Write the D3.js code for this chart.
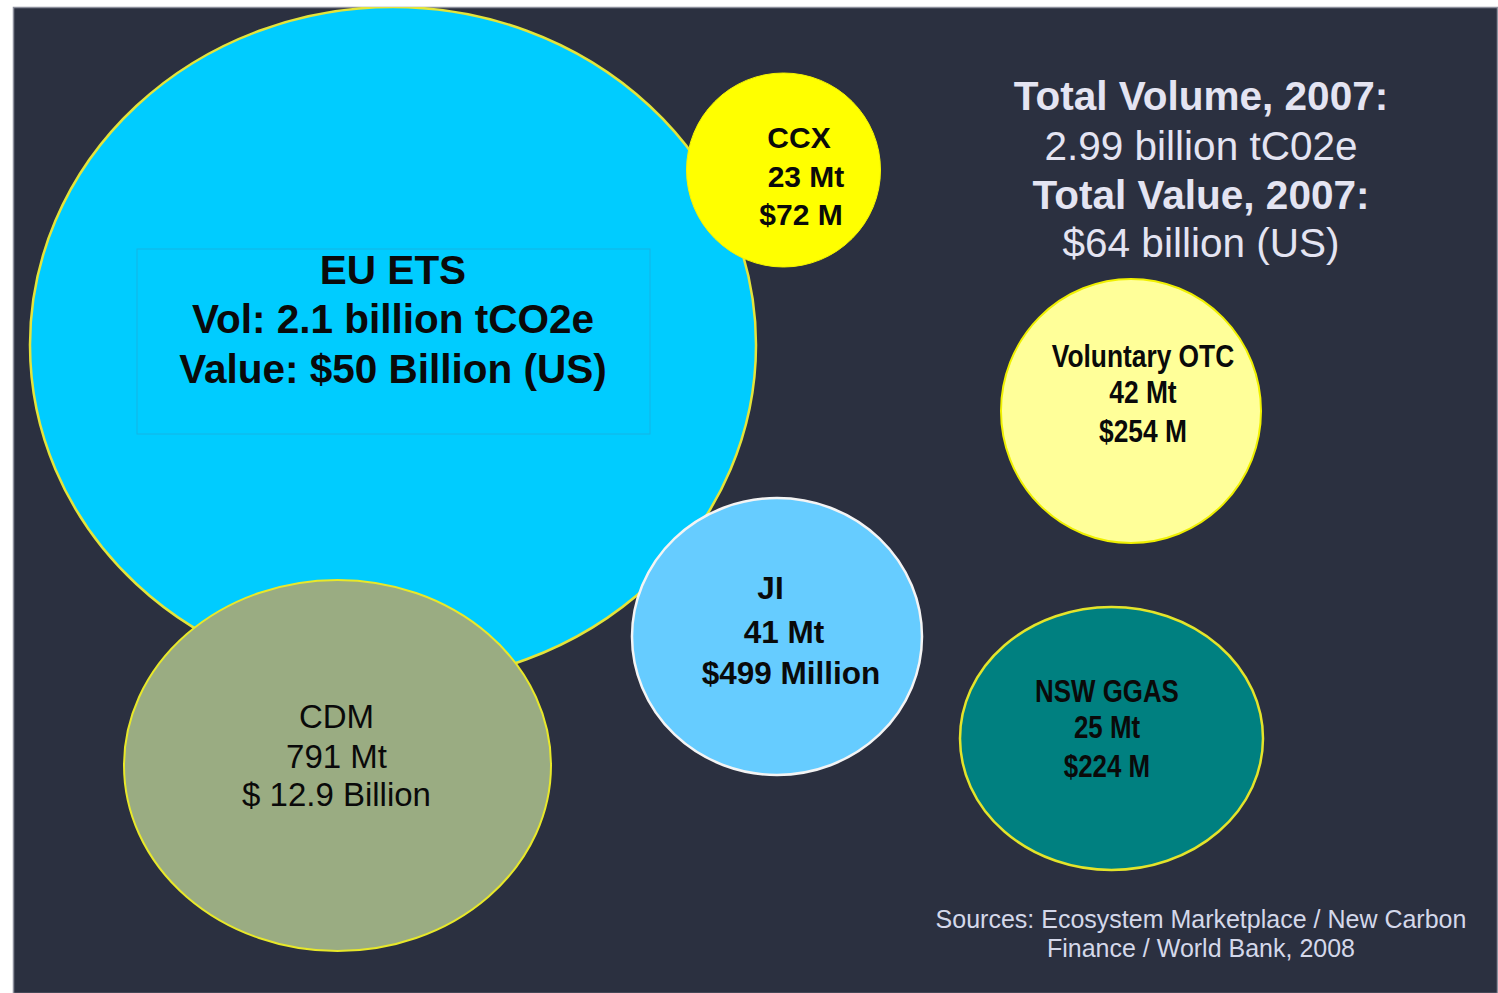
<!DOCTYPE html>
<html>
<head>
<meta charset="utf-8">
<script src="https://cdn.jsdelivr.net/npm/d3@7"></script>
<style>
    html, body { margin: 0; padding: 0; background: #ffffff; }
    svg { display: block; }
</style>
</head>
<body>
<div id="chart"></div>
<script>
// carbon markets 2007
const markets = ['EU ETS', 'CCX', 'CDM', 'JI', 'Voluntary OTC', 'NSW GGAS'];
const volumesMt = [2100, 23, 791, 41, 42, 25];
const valuesMUSD = [50000, 72, 12900, 499, 254, 224];
const volumeLabels = ['Vol: 2.1 billion tCO2e', '23 Mt', '791 Mt', '41 Mt', '42 Mt', '25 Mt'];
const valueLabels = ['Value: $50 Billion (US)', '$72 M', '$ 12.9 Billion', '$499 Million', '$254 M', '$224 M'];
const totalLines = ['Total Volume, 2007:', '2.99 billion tC02e', 'Total Value, 2007:', '$64 billion (US)'];
const sourceLines = ['Sources: Ecosystem Marketplace / New Carbon', 'Finance / World Bank, 2008'];

// where each bubble sits on the slide (panel units), not data
// squeeze < 1 fakes the narrow typeface used on some bubbles
const layout = [
    { cx: 380, cy: 338, rx: 363, ry: 338, fill: '#00ccff', stroke: '#e4e43a', sw: 2.5,
      weight: 'bold', size: 40.5, squeeze: 1,
      dx: [0, 0, 0], dy: [-61, -12, 38] },
    { cx: 770.5, cy: 163, rx: 97, ry: 97, fill: '#ffff00', stroke: '#f4f400', sw: 1,
      weight: 'bold', size: 30, squeeze: 1,
      dx: [15.5, 22.5, 17.5], dy: [-22, 17, 55] },
    { cx: 324.5, cy: 758.5, rx: 213.5, ry: 185.5, fill: '#9aac82', stroke: '#e8e82a', sw: 2,
      weight: 'normal', size: 33, squeeze: 1,
      dx: [-1, -1, -1], dy: [-37.5, 2, 40.5] },
    { cx: 764, cy: 629.5, rx: 145, ry: 138.5, fill: '#66ccff', stroke: '#f4f4f4', sw: 2.5,
      weight: 'bold', size: 31.5, squeeze: 1,
      dx: [-6.5, 7, 14], dy: [-38, 6, 47] },
    { cx: 1118, cy: 404, rx: 130, ry: 132, fill: '#ffff99', stroke: '#f0f000', sw: 2,
      weight: 'bold', size: 31, squeeze: 0.85,
      dx: [12, 12, 12], dy: [-44, -8, 31] },
    { cx: 1098.5, cy: 731.5, rx: 151.5, ry: 131.5, fill: '#008080', stroke: '#e4e42a', sw: 2.5,
      weight: 'bold', size: 31, squeeze: 0.835,
      dx: [-4.5, -4.5, -4.5], dy: [-36.5, -0.5, 38.5] }
];

const W = 1498;
const H = 993;
const panel = { left: 13, top: 7, width: 1484, height: 986 };
const fontFamily = 'Liberation Sans, Arial, sans-serif';

const svg = d3.select('#chart')
    .append('svg')
    .attr('width', W)
    .attr('height', H);

const x = d3.scaleLinear()
    .domain([0, panel.width])
    .range([panel.left, panel.left + panel.width]);
const y = d3.scaleLinear()
    .domain([0, panel.height])
    .range([panel.top, panel.top + panel.height]);

svg.append('defs')
    .append('clipPath')
    .attr('id', 'panel-clip')
    .append('rect')
    .attr('x', x(0))
    .attr('y', y(0))
    .attr('width', x(panel.width) - x(0))
    .attr('height', y(panel.height) - y(0));

// dark slide background
svg.append('rect')
    .attr('x', x(0) + 0.5)
    .attr('y', y(0) + 0.5)
    .attr('width', panel.width)
    .attr('height', panel.height)
    .attr('fill', '#2b3040')
    .attr('stroke', '#8c8f9c')
    .attr('stroke-width', 1.5);

const g = svg.append('g').attr('clip-path', 'url(#panel-clip)');

const bubbles = markets.map((name, i) => {
    return Object.assign({ name: name, vol: volumesMt[i], val: valuesMUSD[i],
        lines: [name, volumeLabels[i], valueLabels[i]] }, layout[i]);
});

// bubbles
g.selectAll('.bubble')
    .data(bubbles)
    .enter()
    .append('ellipse')
    .classed('bubble', true)
    .attr('cx', (d) => x(d.cx))
    .attr('cy', (d) => y(d.cy))
    .attr('rx', (d) => d.rx)
    .attr('ry', (d) => d.ry)
    .attr('fill', (d) => d.fill)
    .attr('stroke', (d) => d.stroke)
    .attr('stroke-width', (d) => d.sw);

// text box inside EU ETS
const eu = bubbles[0];
g.append('rect')
    .attr('x', x(eu.cx) - 256)
    .attr('y', y(eu.cy) - 96)
    .attr('width', 513)
    .attr('height', 185)
    .attr('fill', 'none')
    .attr('stroke', '#14b4e4')
    .attr('stroke-width', 1);

// labels
const labels = g.selectAll('.label')
    .data(bubbles)
    .enter()
    .append('text')
    .classed('label', true)
    .attr('font-family', fontFamily)
    .attr('font-weight', (d) => d.weight)
    .attr('font-size', (d) => d.size)
    .attr('fill', '#0a0a0a')
    .attr('text-anchor', 'middle')
    .attr('transform', (d) => {
        const cx = x(d.cx) + d.dx[0];
        return `translate(${cx}, 0) scale(${d.squeeze}, 1) translate(${-cx}, 0)`;
    });

labels.selectAll('tspan')
    .data((d) => d.lines.map((t, j) => ({ t: t, x: x(d.cx) + d.dx[j], y: y(d.cy) + d.dy[j] })))
    .enter()
    .append('tspan')
    .attr('x', (d) => d.x)
    .attr('y', (d) => d.y)
    .text((d) => d.t);

// totals, top right
const totals = g.append('text')
    .attr('font-family', fontFamily)
    .attr('font-size', 40.5)
    .attr('fill', '#e4e4f2')
    .attr('text-anchor', 'middle');
const totalY = [103, 153, 202, 250];
totals.selectAll('tspan')
    .data(totalLines)
    .enter()
    .append('tspan')
    .attr('x', x(1188))
    .attr('y', (d, i) => y(totalY[i]))
    .attr('font-weight', (d, i) => i % 2 === 0 ? 'bold' : 'normal')
    .text((d) => d);

// sources note
const sources = g.append('text')
    .attr('font-family', fontFamily)
    .attr('font-size', 25)
    .attr('fill', '#d4d8ea')
    .attr('text-anchor', 'middle');
sources.selectAll('tspan')
    .data(sourceLines)
    .enter()
    .append('tspan')
    .attr('x', x(1188))
    .attr('y', (d, i) => y(921 + i * 29))
    .text((d) => d);
</script>
</body>
</html>
